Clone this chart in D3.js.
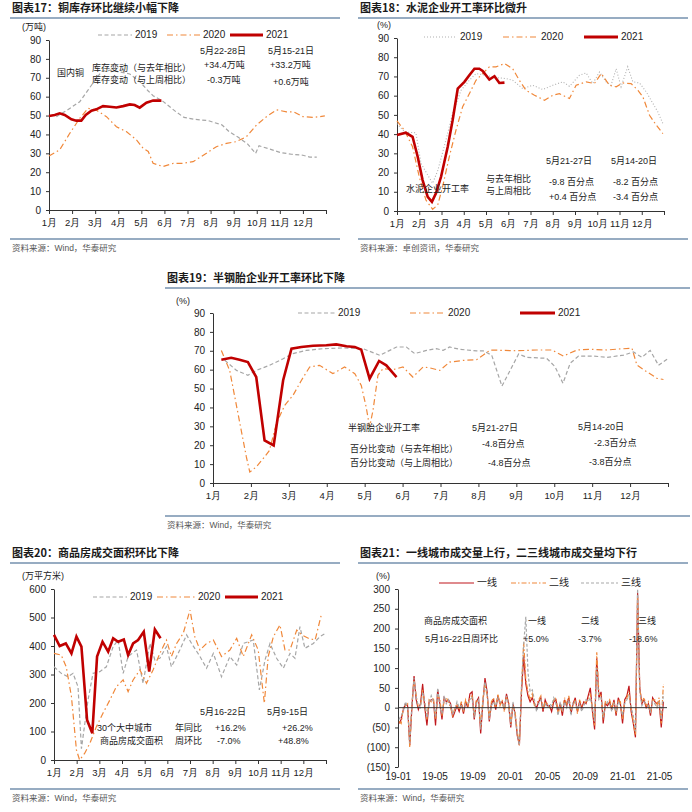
<!DOCTYPE html>
<html><head><meta charset="utf-8">
<script src="https://cdn.jsdelivr.net/npm/d3@7"></script>
<style>
body{margin:0;background:#fff;}
svg{display:block;font-family:"Liberation Sans","Noto Sans CJK SC",sans-serif;}
</style></head><body>
<svg id="c" width="692" height="812"></svg>
<script>
// ---------- DATA ----------
const monthLabels = ["1月","2月","3月","4月","5月","6月","7月","8月","9月","10月","11月","12月"];
const yearNames = ["2019","2020","2021"];

// 图表17 铜库存 (万吨), [month position, value]
const copper2019 = [[0.32,49.4],[0.8,53],[1.33,57.3],[1.69,63.5],[2.05,69.7],[2.3,73.5],[2.7,74],[3.1,73],[3.5,72],[3.93,68],[4.3,63],[4.51,60.5],[4.94,57.5],[5.5,52],[5.85,49],[6.3,48],[6.9,47.3],[7.5,45],[7.8,41.5],[8.2,38.5],[8.6,35],[8.95,30],[9.1,34],[9.5,32.5],[10.0,30.5],[10.5,29.5],[11.0,29],[11.3,28],[11.6,28]];
const copper2020 = [[0,28.6],[0.46,31.8],[0.9,40.6],[1.33,48.5],[1.69,53.8],[2.05,52.9],[2.49,49.4],[2.92,44.1],[3.35,41.5],[3.79,37.1],[4.08,32.6],[4.3,31],[4.51,24.7],[4.94,23],[5.38,24.7],[5.81,24.7],[6.24,25.6],[6.82,30],[7.25,33.5],[7.69,35.3],[8.12,36.2],[8.55,38.8],[8.99,45],[9.42,49.4],[9.86,53],[10.29,52],[10.6,52],[11.0,49.4],[11.45,49],[11.95,49.8]];
const copper2021 = [[0,49.8],[0.25,50.3],[0.46,51.2],[0.68,50.3],[0.97,48],[1.18,47.3],[1.4,47.3],[1.59,50.3],[1.84,52.6],[2.05,53.3],[2.34,55],[2.63,54.7],[2.92,54.3],[3.21,55],[3.5,55.9],[3.71,55.6],[3.93,54.2],[4.22,56.8],[4.51,57.9],[4.87,57.9]];

// 图表18 水泥企业开工率 (%)
const cement2019 = [[0,45.5],[0.35,41],[0.85,40.7],[1.08,24.7],[1.6,14.4],[1.83,21],[2.2,36.9],[2.5,50.7],[2.88,62.8],[3.25,68],[3.55,71.5],[4.0,70.6],[4.45,69.4],[4.9,68.9],[5.2,68],[5.65,63.7],[6.1,65.4],[6.55,63.2],[7.0,65.4],[7.45,67.2],[7.75,64.9],[8.2,70.6],[8.5,71.8],[8.8,66.3],[9.1,72.3],[9.4,67.2],[9.62,65.4],[9.85,74],[10.07,64.6],[10.37,75],[10.6,67.2],[10.9,66.6],[11.2,62],[11.5,56],[11.72,51.6],[11.95,45.5]];
const cement2020 = [[0,46.9],[0.33,42],[0.7,33.4],[1.0,17.8],[1.3,5.7],[1.6,0.9],[1.83,3.1],[2.05,12.6],[2.35,28.2],[2.65,42],[2.95,54.2],[3.25,61],[3.55,68],[3.85,71.5],[4.15,75],[4.45,75],[4.83,76.7],[5.2,74],[5.5,68],[5.8,62.8],[6.18,60.2],[6.63,57.6],[7.0,60.2],[7.3,61],[7.75,58.5],[8.05,65.4],[8.5,67.2],[8.87,66.3],[9.18,71.5],[9.55,65.4],[9.85,64.6],[10.15,66.6],[10.52,66.3],[10.83,62.8],[11.05,59.4],[11.35,49.8],[11.65,44.7],[11.95,40.3]];
const cement2021 = [[0,39.5],[0.4,40.7],[0.7,38.6],[0.93,28.2],[1.15,16.1],[1.38,7.4],[1.57,4.8],[1.75,9.2],[1.98,17.8],[2.28,33.4],[2.5,47.2],[2.73,63.7],[3.03,67.2],[3.25,70.6],[3.48,74],[3.7,74],[3.85,72.9],[4.0,70.6],[4.15,68.4],[4.38,70.1],[4.6,66.6],[4.83,66.8]];

// 图表19 半钢胎企业开工率 (%)
const tire2019 = [[0.31,65],[0.62,59.6],[0.92,57],[1.14,59.6],[1.49,62.3],[1.85,65.8],[2.11,68.5],[2.46,70.2],[2.9,71.1],[3.43,71.5],[3.96,71.1],[4.4,67.6],[4.84,72],[5.1,72],[5.32,68.5],[5.63,70.2],[5.89,71.1],[6.07,70.2],[6.24,72],[6.5,70.8],[6.95,69.9],[7.13,69.9],[7.35,67.7],[7.62,51.3],[7.84,59.8],[8.06,68.3],[8.28,66.5],[8.8,66],[9.02,61.6],[9.23,52.8],[9.42,63.4],[9.64,67.2],[10.04,67.2],[10.39,66.5],[10.83,67.7],[11.09,69.4],[11.31,66.5],[11.53,70.2],[11.75,62.3],[12.0,65.9]];
const tire2020 = [[0.22,70.2],[0.44,59.6],[0.66,36.7],[0.88,13.8],[0.97,5.8],[1.14,8.5],[1.36,13.8],[1.49,17.3],[1.67,31.4],[1.89,41.1],[2.11,46.4],[2.33,54.3],[2.55,61.4],[2.81,62.3],[3.16,57.9],[3.47,61.4],[3.74,57.9],[3.91,51.7],[4.04,40.2],[4.13,29.6],[4.22,38.5],[4.35,57],[4.48,60.5],[4.75,60],[5.01,61.4],[5.27,56.1],[5.54,61.4],[5.71,61],[5.98,59.6],[6.24,64],[6.59,64.9],[6.95,65.3],[7.12,67.6],[7.31,70.4],[8.01,70],[8.54,70.4],[8.94,70.4],[9.24,67.2],[9.6,70.4],[9.95,70.8],[10.39,70.4],[10.74,71],[11.05,71.3],[11.18,62.4],[11.44,58.9],[11.71,55.4],[11.88,54.8]];
const tire2021 = [[0.22,65.3],[0.48,66.3],[0.7,65.3],[0.92,64],[1.14,56.1],[1.36,22.6],[1.6,19.9],[1.85,54.4],[2.07,71.1],[2.33,72],[2.64,72.7],[2.99,72.9],[3.25,73.4],[3.52,72.4],[3.74,72],[3.91,70.6],[4.13,55.2],[4.38,64.6],[4.57,62.3],[4.84,56.1]];

// 图表20 商品房成交面积 (万平方米)
const house2019 = [[0,327],[0.32,304],[0.62,292],[0.84,304],[1.06,257],[1.21,40],[1.5,210],[1.72,304],[2.02,310],[2.31,327],[2.61,398],[2.83,421],[3.05,304],[3.27,363],[3.64,386],[3.93,269],[4.23,409],[4.45,351],[4.67,357],[4.96,398],[5.18,327],[5.55,386],[5.85,439],[6.07,409],[6.44,363],[6.73,322],[7.03,374],[7.39,292],[7.76,363],[8.06,333],[8.35,409],[8.79,421],[9.06,246],[9.31,351],[9.53,409],[9.82,357],[10.12,322],[10.41,374],[10.63,357],[10.85,468],[11.07,392],[11.44,409],[11.74,433],[11.96,444]];
const house2020 = [[0,374],[0.32,368],[0.54,327],[0.77,222],[0.99,35],[1.13,0],[1.35,23],[1.58,58],[1.87,117],[2.16,164],[2.46,210],[2.75,257],[3.05,281],[3.27,240],[3.49,281],[3.79,316],[4.08,269],[4.37,316],[4.67,374],[4.96,421],[5.18,363],[5.41,409],[5.7,444],[6.0,526],[6.21,433],[6.44,386],[6.73,409],[7.03,421],[7.39,363],[7.76,386],[8.06,427],[8.35,363],[8.72,439],[9.01,386],[9.28,199],[9.45,363],[9.68,433],[9.97,474],[10.19,386],[10.41,386],[10.71,456],[10.93,439],[11.22,427],[11.52,421],[11.81,515]];
const house2021 = [[0,439],[0.25,400],[0.52,409],[0.77,374],[0.99,433],[1.21,398],[1.46,140],[1.69,94],[1.9,363],[2.14,415],[2.39,380],[2.61,427],[2.83,415],[3.08,423],[3.27,368],[3.49,409],[3.71,421],[3.96,450],[4.2,310],[4.45,458],[4.7,427]];

// 图表21 周环比 (%), weekly from 2019-01-05
const tierNames = ["一线","二线","三线"];
const xTickLabels21 = ["19-01","19-05","19-09","20-01","20-05","20-09","21-01","21-05"];
const tier1 = [-40,-30,-5,10,5,-95,0,80,20,-5, 10,60,0,-45,15,20,20,-45,45,10, -30,25,15,20,10,-25,-10,5,-10,10, -15,15,0,35,40,-30,15,25,-65,10, 75,40,-35,10,20,-5,30,10,15,-5, 35,10,-50,10,-15,-70,-95,40,130,60, 30,15,25,10,0,15,25,-10,20,5, 5,-10,15,20,-10,10,-20,20,5,25, -15,10,25,-10,15,0,15,10,30,50, -10,-55,125,25,40,-40,10,5,15,-5, 20,-20,25,10,-40,20,30,55,-10,-40, -75,290,50,10,20,0,10,-20,25,15, 10,15,-50,15];
const tier2 = [-35,-40,0,5,10,-100,10,70,30,0, 5,45,10,-30,20,15,25,-30,30,20, -20,20,25,15,0,-20,0,10,-5,15, -10,20,5,25,30,-20,20,15,-50,20, 60,30,-25,15,25,0,35,5,20,-10, 25,15,-40,5,-10,-60,-95,50,165,70, 40,20,35,5,10,20,30,-5,15,10, 0,0,20,25,-15,5,-10,25,10,30, -5,5,20,-15,20,5,10,15,20,35, -5,-45,140,35,30,-30,15,10,20,0, 15,-15,20,15,-30,15,25,40,-5,-35, -70,280,45,15,25,5,15,-15,20,20, 5,25,-40,60];
const tier3 = [-30,-20,-10,15,0,-90,5,75,25,5, 0,40,15,-25,10,30,15,-25,50,0, -15,30,10,20,5,-15,-5,15,0,5, -5,10,10,20,25,-25,10,20,-55,15, 65,35,-30,5,15,5,25,15,10,0, 30,5,-45,15,-20,-65,-95,60,160,230, 90,40,45,20,-10,10,20,5,10,0, 10,5,25,10,-20,15,-5,15,0,20, -20,15,15,-5,10,-10,5,20,15,25, 0,-35,100,20,25,-25,5,15,10,-10, 10,-10,15,5,-20,10,20,30,0,-20, -60,300,40,5,15,10,5,-10,15,10, 0,15,-30,35];

// ---------- STYLE ----------
const RED="#C00000", ORANGE="#F0883A", GRAY="#A6A6A6", FRAME="#7590AE", TXT="#222";
const CJK = "'Noto Sans CJK SC',sans-serif";
const svg = d3.select("#c");

function header(x1,x2,y,title,srcY,src){
  svg.append("text").attr("x",x1+2).attr("y",y).attr("font-size",11).attr("font-weight","bold")
    .attr("font-family",CJK).attr("fill","#1a1a1a").text(title);
  svg.append("line").attr("x1",x1).attr("x2",x2).attr("y1",y+6).attr("y2",y+6).attr("stroke",FRAME).attr("stroke-width",1.6);
  svg.append("line").attr("x1",x1).attr("x2",x2).attr("y1",srcY-9).attr("y2",srcY-9).attr("stroke",FRAME).attr("stroke-width",1.6);
  svg.append("text").attr("x",x1+2).attr("y",srcY+3).attr("font-size",8.5).attr("fill","#555").text(src);
}
function txt(x,y,s,size){
  svg.append("text").attr("x",x).attr("y",y).attr("dominant-baseline","middle")
    .attr("font-size",size||9).attr("fill",TXT).text(s);
}
const seriesStyle = {
  dash:{stroke:GRAY,w:1.2,da:"4,2.5"},
  dot:{stroke:"#B0B0B0",w:1.1,da:"1,2"},
  dashdot:{stroke:ORANGE,w:1.2,da:"6,3,1.5,3"},
  solid:{stroke:RED,w:2.6,da:null},
  thin:{stroke:"#C0171C",w:1.2,da:null},
  dashdot21:{stroke:ORANGE,w:1.2,da:"5,2,1.5,2"},
  dash21:{stroke:"#A8A8A8",w:1.2,da:"3,2"}
};
function styled(sel,st){
  sel.attr("fill","none").attr("stroke",st.stroke).attr("stroke-width",st.w);
  if(st.da) sel.attr("stroke-dasharray",st.da);
  return sel;
}
function legend(items,y){
  items.forEach(it=>{
    styled(svg.append("line").attr("x1",it.x).attr("x2",it.x+it.len).attr("y1",y).attr("y2",y),
      it.st===seriesStyle.solid?{stroke:RED,w:3,da:null}:it.st);
    svg.append("text").attr("x",it.x+it.len+3).attr("y",y).attr("dominant-baseline","middle")
      .attr("font-size",10).attr("fill",TXT).text(it.label);
  });
}

function monthPanel(o){
  const x=d3.scaleLinear().domain([0,12]).range([o.x0,o.x1]);
  const y=d3.scaleLinear().domain(o.yDomain).range([o.y0,o.y1]);
  const ya=svg.append("g").attr("transform",`translate(${o.x0},0)`)
    .call(d3.axisLeft(y).tickValues(o.yTicks).tickSize(3).tickSizeOuter(0).tickPadding(5));
  const xa=svg.append("g").attr("transform",`translate(0,${o.y0})`)
    .call(d3.axisBottom(x).tickValues(d3.range(13)).tickSize(4).tickSizeOuter(0).tickPadding(5)
      .tickFormat(d=>d<12?monthLabels[d]:""));
  [ya,xa].forEach(a=>{a.selectAll("path,line").attr("stroke","#333");
    a.selectAll("text").attr("fill",TXT).attr("font-size",10);});
  xa.selectAll("text").attr("font-size",9.5);
  const line=d3.line().x(d=>x(d[0])).y(d=>y(d[1]));
  o.series.forEach(s=>{ styled(svg.append("path").attr("d",line(s.data)),s.st); });
  svg.append("text").attr("x",o.unitX).attr("y",o.unitY).attr("dominant-baseline","middle")
    .attr("font-size",9).attr("fill",TXT).text(o.unit);
}

// ---------- 图表17 ----------
header(10,340,12,"图表17：铜库存环比继续小幅下降",248,"资料来源：Wind，华泰研究");
monthPanel({x0:49,x1:326,y0:210,y1:40,yDomain:[0,90],yTicks:d3.range(0,91,10),unit:"(万吨)",unitX:22,unitY:28,
  series:[{data:copper2019,st:seriesStyle.dash},{data:copper2020,st:seriesStyle.dashdot},{data:copper2021,st:seriesStyle.solid}]});
legend([{x:98,len:34,st:seriesStyle.dash,label:yearNames[0]},{x:167,len:33,st:seriesStyle.dashdot,label:yearNames[1]},{x:230,len:33,st:seriesStyle.solid,label:yearNames[2]}],35);
txt(57,74,"国内铜");
txt(92,69,"库存变动（与去年相比）");
txt(92,81,"库存变动（与上周相比）");
txt(200,52,"5月22-28日");txt(204,66,"+34.4万吨");txt(207,81,"-0.3万吨");
txt(268,52,"5月15-21日");txt(270,66,"+33.2万吨");txt(273,83,"+0.6万吨");

// ---------- 图表18 ----------
header(358,688,12,"图表18：水泥企业开工率环比微升",248,"资料来源：卓创资讯，华泰研究");
monthPanel({x0:397,x1:664,y0:211,y1:38,yDomain:[0,90],yTicks:d3.range(0,91,10),unit:"(%)",unitX:377,unitY:26,
  series:[{data:cement2019,st:seriesStyle.dot},{data:cement2020,st:seriesStyle.dashdot},{data:cement2021,st:seriesStyle.solid}]});
legend([{x:424,len:33,st:seriesStyle.dot,label:yearNames[0]},{x:503,len:35,st:seriesStyle.dashdot,label:yearNames[1]},{x:584,len:34,st:seriesStyle.solid,label:yearNames[2]}],37);
txt(546,162,"5月21-27日");txt(611,162,"5月14-20日");
txt(486,180,"与去年相比");txt(486,192,"与上周相比");
txt(549,183,"-9.8 百分点");txt(613,183,"-8.2 百分点");
txt(549,198,"+0.4 百分点");txt(613,198,"-3.4 百分点");
txt(406,190,"水泥企业开工率");

// ---------- 图表19 ----------
header(165,690,282,"图表19：半钢胎企业开工率环比下降",525,"资料来源：Wind，华泰研究");
monthPanel({x0:213,x1:668,y0:483,y1:313,yDomain:[0,90],yTicks:d3.range(0,91,10),unit:"(%)",unitX:176,unitY:302,
  series:[{data:tire2019,st:seriesStyle.dash},{data:tire2020,st:seriesStyle.dashdot},{data:tire2021,st:seriesStyle.solid}]});
legend([{x:298,len:37,st:seriesStyle.dash,label:yearNames[0]},{x:410,len:35,st:seriesStyle.dashdot,label:yearNames[1]},{x:520,len:35,st:seriesStyle.solid,label:yearNames[2]}],313);
txt(348,429,"半钢胎企业开工率");txt(472,429,"5月21-27日");txt(578,428,"5月14-20日");
txt(350,450,"百分比变动（与去年相比）");txt(350,464,"百分比变动（与上周相比）");
txt(482,445,"-4.8百分点");txt(488,464,"-4.8百分点");
txt(594,444,"-2.3百分点");txt(589,463,"-3.8百分点");

// ---------- 图表20 ----------
header(10,340,557,"图表20：商品房成交面积环比下降",798,"资料来源：Wind，华泰研究");
monthPanel({x0:54,x1:326,y0:760,y1:589,yDomain:[0,600],yTicks:d3.range(0,601,100),unit:"(万平方米)",unitX:22,unitY:577,
  series:[{data:house2019,st:seriesStyle.dash},{data:house2020,st:seriesStyle.dashdot},{data:house2021,st:seriesStyle.solid}]});
legend([{x:93,len:34,st:seriesStyle.dash,label:yearNames[0]},{x:157,len:38,st:seriesStyle.dashdot,label:yearNames[1]},{x:225,len:33,st:seriesStyle.solid,label:yearNames[2]}],597);
txt(200,713,"5月16-22日");txt(267,713,"5月9-15日");
txt(97,729,"30个大中城市");txt(100,742,"商品房成交面积");
txt(175,729,"年同比");txt(175,742,"周环比");
txt(215,729,"+16.2%");txt(217,742,"-7.0%");
txt(282,729,"+26.2%");txt(278,742,"+48.8%");

// ---------- 图表21 ----------
header(358,688,557,"图表21：一线城市成交量上行，二三线城市成交量均下行",798,"资料来源：Wind，华泰研究");
(function(){
  const start=new Date(2019,0,5);
  const dates=tier1.map((_,i)=>d3.timeDay.offset(start,7*i));
  const x=d3.scaleTime().domain([start,new Date(2019,0,5+875)]).range([399,667.7]);
  const y=d3.scaleLinear().domain([-150,300]).range([767,589]);
  const ya=svg.append("g").attr("transform","translate(398,0)")
    .call(d3.axisLeft(y).tickValues(d3.range(-150,301,50)).tickSize(3).tickSizeOuter(0).tickPadding(5)
      .tickFormat(d=>d<0?`(${-d})`:d));
  const tickDates=xTickLabels21.map(s=>new Date(2000+ +s.slice(0,2),+s.slice(3)-1,1));
  const xa=svg.append("g").attr("transform","translate(0,767)")
    .call(d3.axisBottom(x).tickValues(tickDates).tickSize(0).tickPadding(6).tickFormat((d,i)=>xTickLabels21[i]));
  xa.select(".domain").remove();
  [ya,xa].forEach(a=>{a.selectAll("path,line").attr("stroke","#333");
    a.selectAll("text").attr("fill",TXT).attr("font-size",10);});
  const line=d3.line().x((d,i)=>x(dates[i])).y(d=>y(d));
  [[tier1,seriesStyle.thin],[tier2,seriesStyle.dashdot21],[tier3,seriesStyle.dash21]].forEach(([arr,st])=>{
    styled(svg.append("path").attr("d",line(arr)),st);
  });
  svg.append("line").attr("x1",398).attr("x2",667).attr("y1",y(0)).attr("y2",y(0)).attr("stroke","#333").attr("stroke-width",1);
  svg.append("text").attr("x",376).attr("y",577).attr("dominant-baseline","middle").attr("font-size",9).attr("fill",TXT).text("(%)");
})();
legend([{x:439,len:35,st:seriesStyle.thin,label:tierNames[0]},{x:511,len:35,st:seriesStyle.dashdot21,label:tierNames[1]},{x:581,len:37,st:seriesStyle.dash21,label:tierNames[2]}],583);
txt(424,622,"商品房成交面积");txt(425,640,"5月16-22日周环比");
txt(528,622,"一线");txt(523,640,"+5.0%");
txt(581,622,"二线");txt(578,640,"-3.7%");
txt(638,622,"三线");txt(629,640,"-18.6%");
</script>
</body></html>
